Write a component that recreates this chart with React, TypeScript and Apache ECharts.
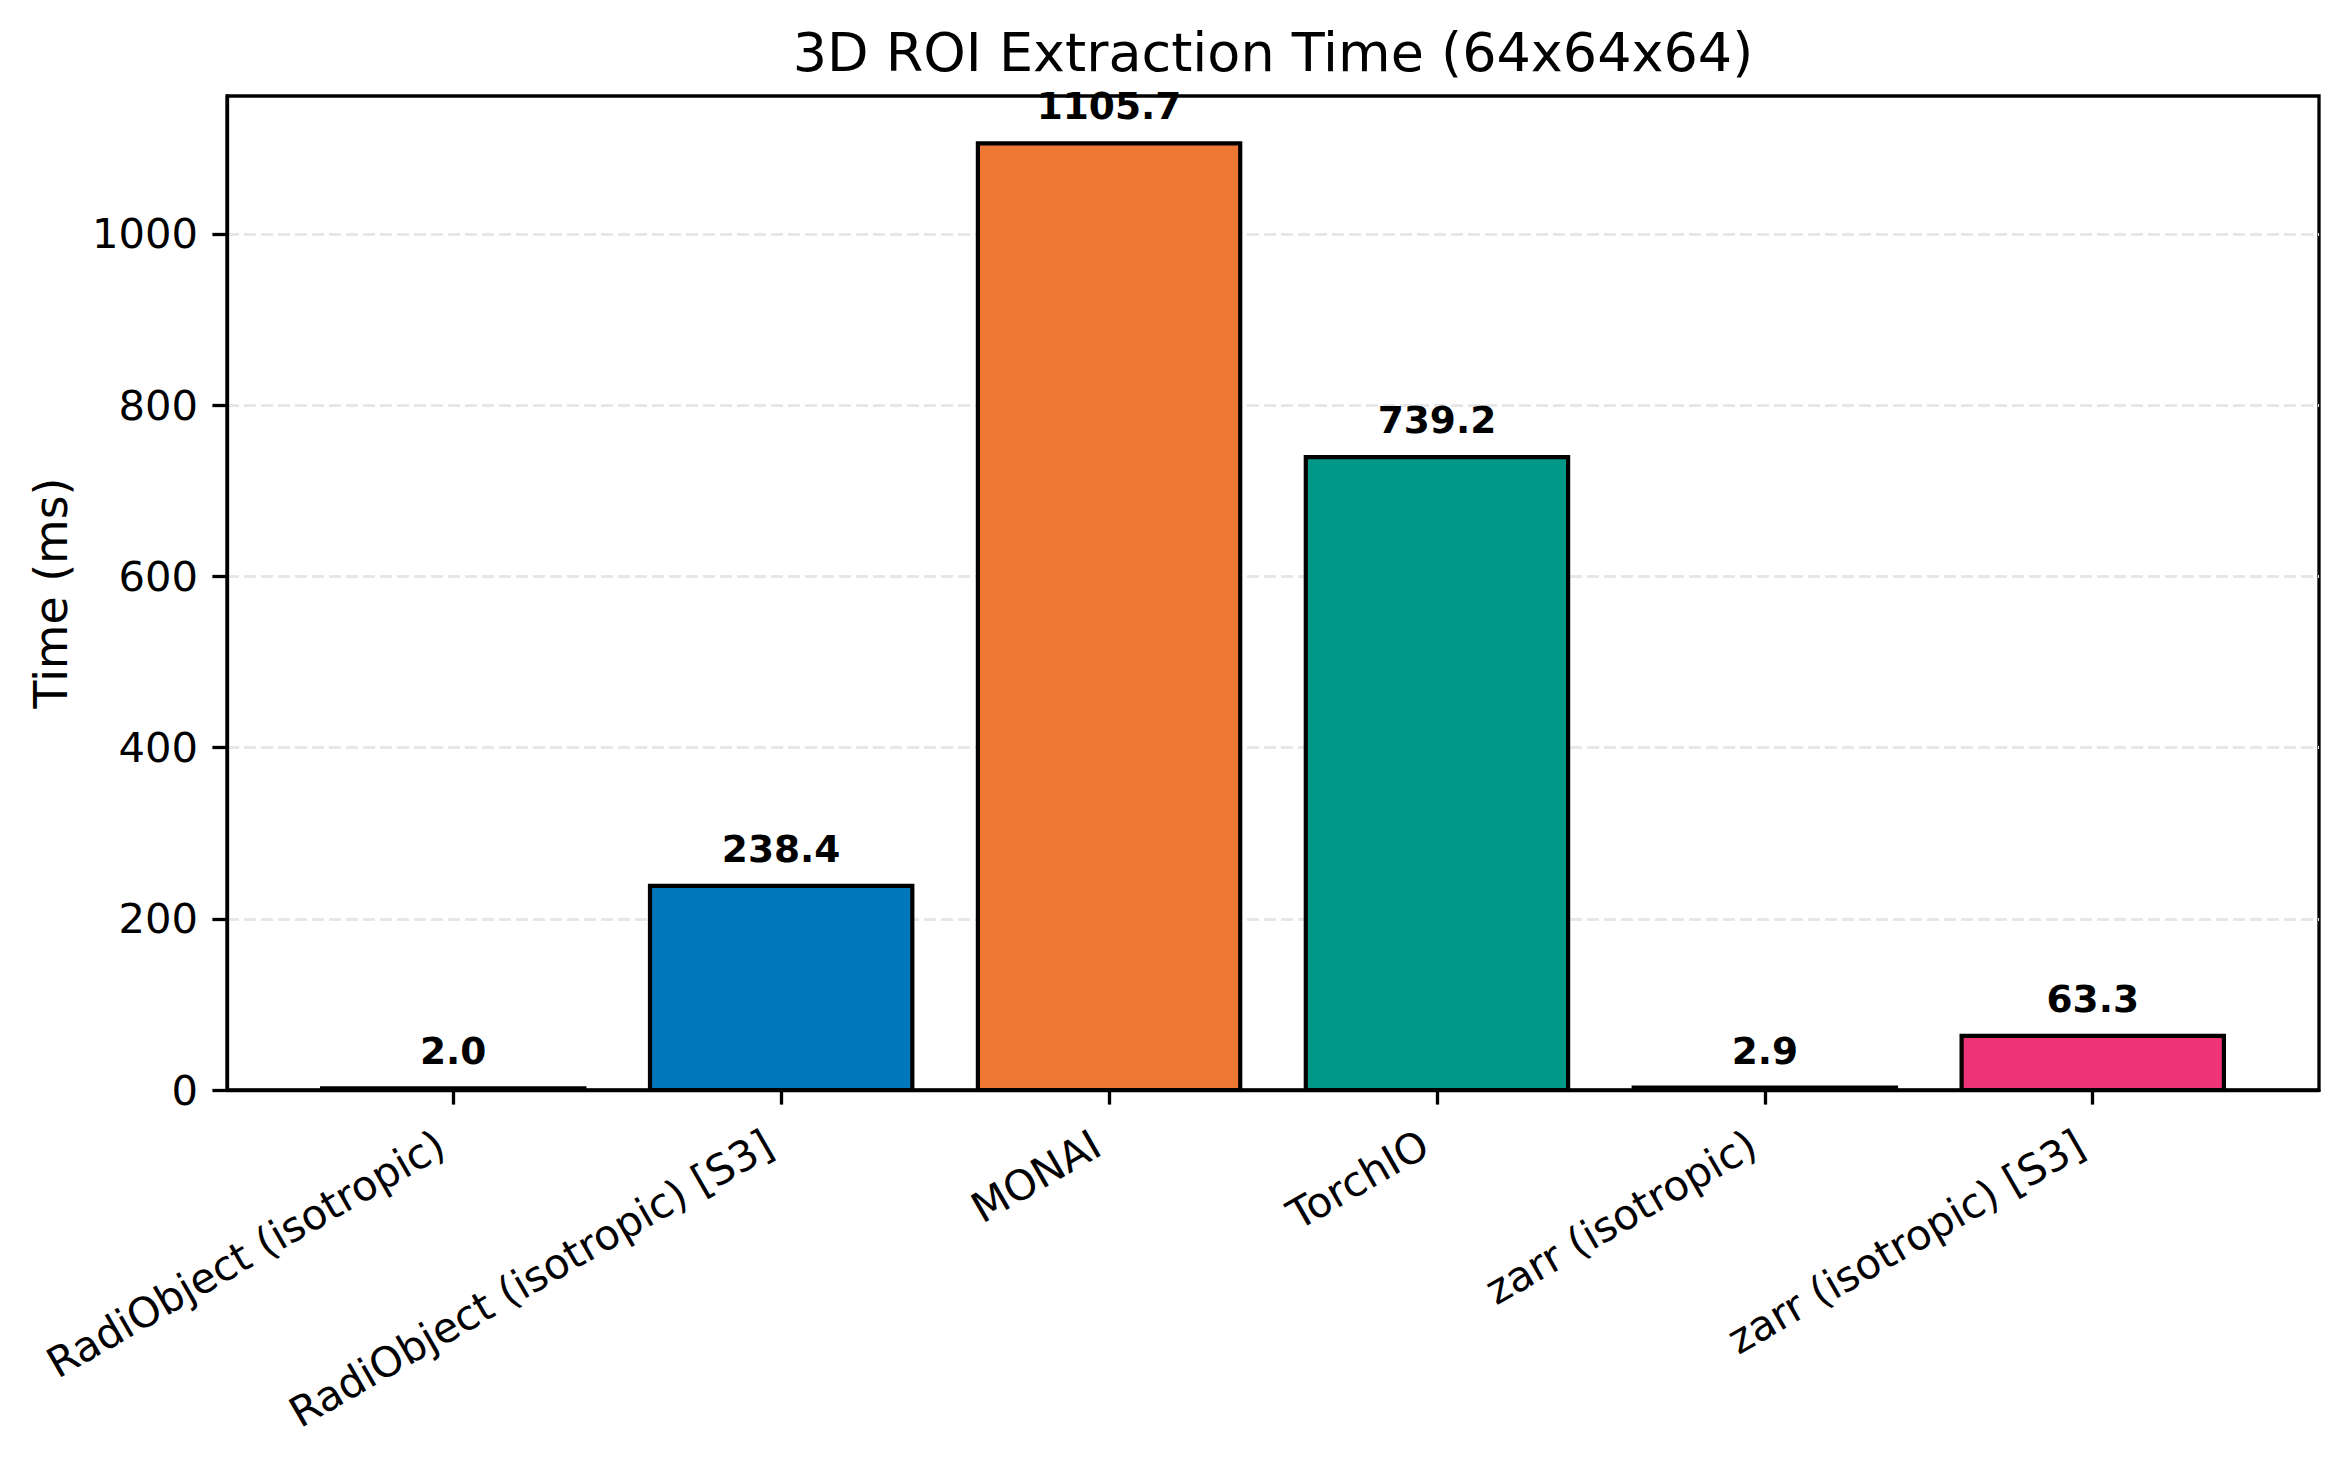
import { useEffect, useRef } from 'react';
import * as echarts from 'echarts';

const categories = [
  'RadiObject (isotropic)',
  'RadiObject (isotropic) [S3]',
  'MONAI',
  'TorchIO',
  'zarr (isotropic)',
  'zarr (isotropic) [S3]',
];
const times = [2.0, 238.4, 1105.7, 739.2, 2.9, 63.3];
const barColors = ['#33BBEE', '#0077BB', '#EE7733', '#009988', '#BBBBBB', '#EE3377'];
const xTicks = [0, 1, 2, 3, 4, 5];
const yTicks = [0, 200, 400, 600, 800, 1000];

const FONT = '"DejaVu Sans", sans-serif';
const BAR_W = 0.8;

export default function App() {
  const ref = useRef<HTMLDivElement>(null);

  useEffect(() => {
    document.body.style.margin = '0';
    if (!ref.current) return;
    const chart = echarts.init(ref.current, undefined, { renderer: 'svg' });

    const option: any = {
      animation: false,
      backgroundColor: '#fff',
      title: {
        text: '3D ROI Extraction Time (64x64x64)',
        left: 1273,
        top: 28,
        padding: 0,
        textAlign: 'center',
        textStyle: {
          fontFamily: FONT,
          fontSize: 54,
          lineHeight: 48,
          fontWeight: 'normal',
          color: '#000',
        },
      },
      grid: {
        left: 227,
        right: 28,
        top: 96,
        bottom: 370,
        show: true,
        borderColor: '#000',
        borderWidth: 3.3,
        backgroundColor: 'transparent',
      },
      xAxis: {
        type: 'value',
        min: -0.69,
        max: 5.69,
        splitLine: { show: false },
        axisLine: { show: true, onZero: false, lineStyle: { color: '#000', width: 3.3 } },
        axisTick: {
          show: true,
          customValues: xTicks,
          length: 14.6,
          lineStyle: { color: '#000', width: 3.3 },
        },
        axisLabel: {
          customValues: xTicks,
          rotate: 30,
          margin: 44,
          padding: [0, 14, 0, 0],
          fontFamily: FONT,
          fontSize: 41.7,
          color: '#000',
          formatter: (v: number) => categories[Math.round(v)] ?? '',
        },
      },
      yAxis: {
        type: 'value',
        min: 0,
        max: 1161,
        interval: 200,
        name: 'Time (ms)',
        nameLocation: 'middle',
        nameGap: 153,
        nameTextStyle: { fontFamily: FONT, fontSize: 45.8, color: '#000' },
        axisLine: { show: true, onZero: false, lineStyle: { color: '#000', width: 3.3 } },
        axisTick: {
          show: true,
          customValues: yTicks,
          length: 14.6,
          lineStyle: { color: '#000', width: 3.3 },
        },
        axisLabel: {
          customValues: yTicks,
          margin: 29,
          fontFamily: FONT,
          fontSize: 41.7,
          color: '#000',
          formatter: (v: number) => String(v),
        },
        splitLine: {
          show: true,
          showMinLine: false,
          showMaxLine: true,
          lineStyle: { color: '#e7e7e7', width: 3, type: [12, 5] },
        },
      },
      series: [
        {
          type: 'custom',
          clip: false,
          data: times.map((t, i) => [i, t]),
          renderItem: (params: any, api: any) => {
            const i = api.value(0);
            const v = api.value(1);
            const p0 = api.coord([i - BAR_W / 2, v]);
            const p1 = api.coord([i + BAR_W / 2, 0]);
            return {
              type: 'group',
              children: [
                {
                  type: 'rect',
                  shape: { x: p0[0], y: p0[1], width: p1[0] - p0[0], height: p1[1] - p0[1] },
                  style: { fill: barColors[params.dataIndex], stroke: '#000', lineWidth: 4.2 },
                },
                {
                  type: 'text',
                  style: {
                    text: v.toFixed(1),
                    x: (p0[0] + p1[0]) / 2,
                    y: p0[1] - 20,
                    align: 'center',
                    verticalAlign: 'bottom',
                    fontFamily: FONT,
                    fontSize: 37.5,
                    lineHeight: 34,
                    fontWeight: 'bold',
                    fill: '#000',
                  },
                },
              ],
            };
          },
        },
      ],
    };

    chart.setOption(option);
    return () => {
      chart.dispose();
    };
  }, []);

  return <div ref={ref} style={{ width: 2347, height: 1460 }} />;
}
